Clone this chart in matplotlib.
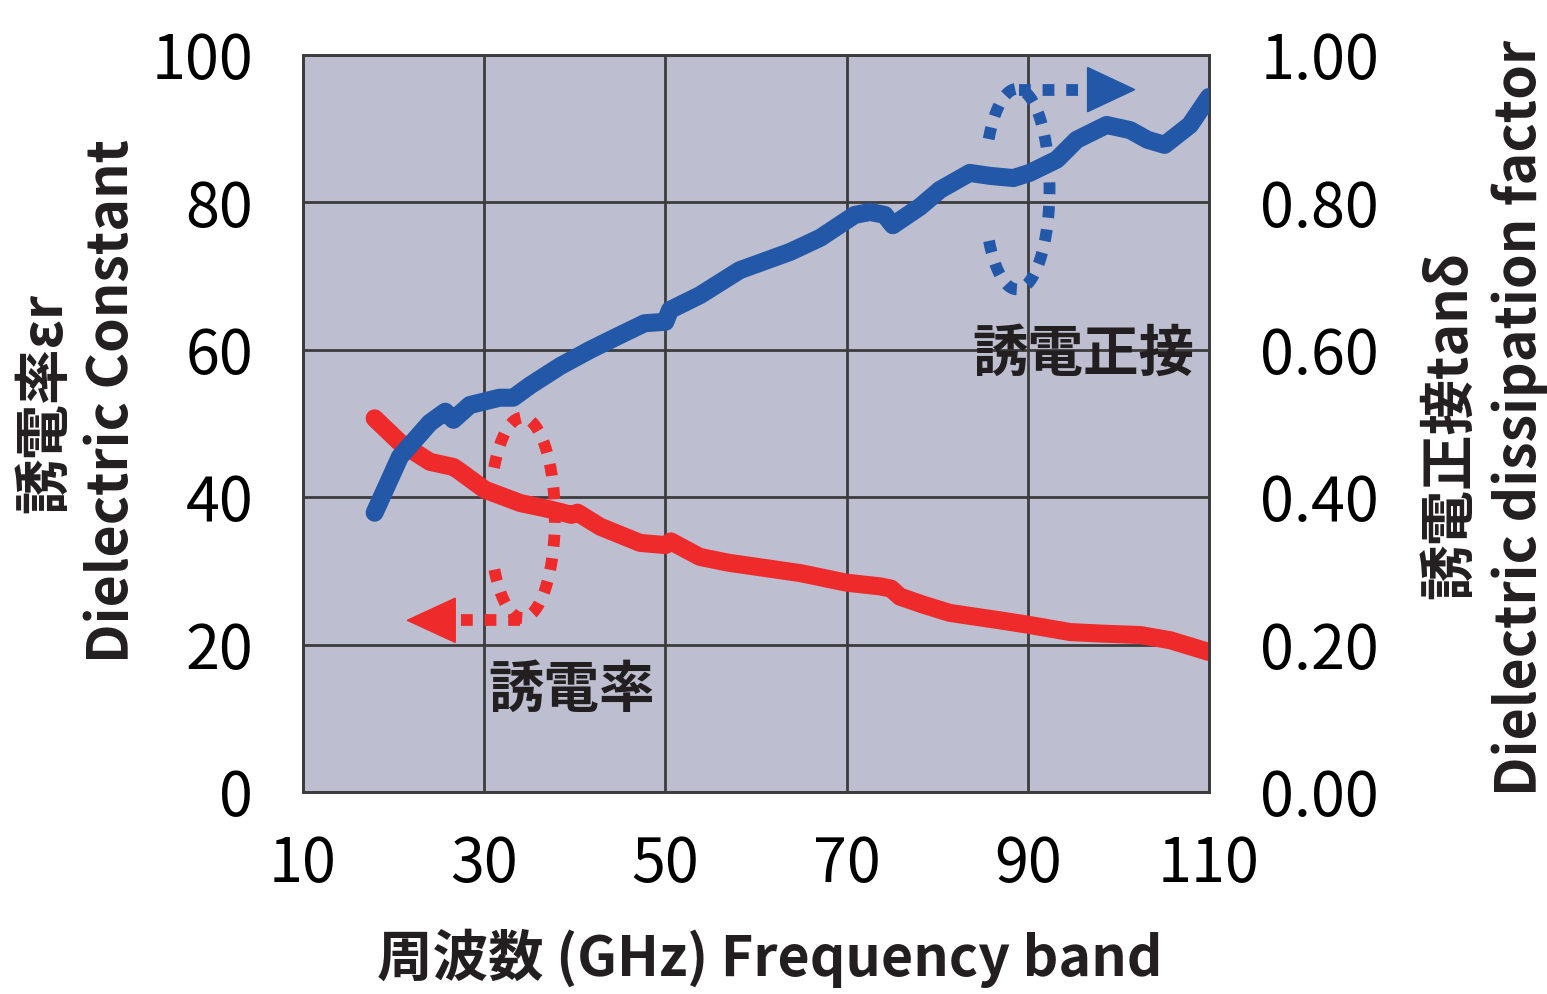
import numpy as np
import matplotlib
matplotlib.use('Agg')
import matplotlib.pyplot as plt
from matplotlib.patches import Polygon

plt.rcParams['font.family'] = ['Noto Sans CJK JP', 'DejaVu Sans']

# Dielectric constant (left axis)
freq_er = [17.9, 20.7, 24.0, 26.6, 27.2, 30.1, 34.0, 36.7, 38.4, 39.6, 40.3, 42.8, 47.2, 50.0,
           50.6, 53.8, 57.0, 60.4, 64.9, 70.0, 73.7, 74.9, 75.9, 78.5, 81.4, 86.9, 90.0,
           94.7, 98.0, 102.4, 105.7, 110.0]
er = [50.7, 47.4, 44.8, 44.1, 43.6, 41.0, 39.2, 38.5, 38.0, 37.6, 37.9, 36.0, 33.8, 33.5,
      34.0, 31.9, 31.1, 30.5, 29.7, 28.4, 27.9, 27.6, 26.5, 25.4, 24.3, 23.3, 22.7,
      21.7, 21.5, 21.3, 20.6, 19.0]

# Dissipation factor (right axis)
freq_tan = [17.9, 20.7, 24.0, 25.7, 26.6, 28.4, 31.7, 33.2, 35.1, 38.4, 41.7, 45.0, 47.7, 50.0,
            50.5, 53.8, 58.2, 63.8, 67.1, 70.9, 72.6, 74.2, 75.1, 78.1, 80.3, 83.6, 85.8,
            88.4, 90.2, 93.2, 95.4, 98.7, 101.3, 103.2, 105.1, 107.9, 110.0]
tan_d = [0.379, 0.455, 0.501, 0.516, 0.505, 0.525, 0.535, 0.535, 0.552, 0.578, 0.600, 0.620,
         0.636, 0.638, 0.654, 0.674, 0.708, 0.733, 0.752, 0.783, 0.787, 0.783, 0.769, 0.794,
         0.817, 0.840, 0.836, 0.833, 0.840, 0.858, 0.885, 0.905, 0.898, 0.885, 0.878, 0.905, 0.943]

xticks = [10, 30, 50, 70, 90, 110]
yticks_left = [0, 20, 40, 60, 80, 100]
yticks_right = [0.0, 0.2, 0.4, 0.6, 0.8, 1.0]

RED = '#ee2a2b'
BLUE = '#2358a8'
GRID = '#3c3c3c'
TXT = '#231f20'

fig = plt.figure(figsize=(15.47, 9.94), dpi=100)
ax = fig.add_axes([0.1959, 0.2032, 0.5856, 0.7415])
ax.set_facecolor('#bdbfd0')
ax2 = ax.twinx()

ax.set_xlim(10, 110)
ax.set_ylim(0, 100)
ax2.set_ylim(0, 1)
ax.set_xticks(xticks)
ax.set_yticks(yticks_left)
ax2.set_yticks(yticks_right)
ax2.set_yticklabels([f'{v:.2f}' for v in yticks_right])
ax.grid(True, color=GRID, linewidth=2.0)
ax.set_axisbelow(True)
for a in (ax, ax2):
    for s in a.spines.values():
        s.set_color(GRID)
        s.set_linewidth(2.0)
ax.tick_params(axis='both', length=0, labelsize=44, pad=36)
ax.tick_params(axis='x', pad=30)
ax2.tick_params(axis='y', length=0, labelsize=44, pad=37)

ax.plot(freq_er, er, color=RED, lw=13, solid_capstyle='round', solid_joinstyle='round', zorder=3)
ax2.plot(freq_tan, tan_d, color=BLUE, lw=13, solid_capstyle='round', solid_joinstyle='round', zorder=3)

# dotted loops with arrows (annotation marks, drawn in left-axis units)
def loop(cx, cy, color):
    t = np.radians(np.linspace(150, -150, 200))
    ax2.plot(cx + 3.6 * np.cos(t), cy + 13.6 * np.sin(t), transform=ax.transData,
             color=color, lw=8.5, linestyle=(0, (1, 1)), dash_capstyle='butt', zorder=4)

loop(34.2, 37.2, RED)
ax2.plot([34.0, 27.0], [23.3, 23.3], transform=ax.transData, color=RED, lw=8.5,
         linestyle=(0, (1, 1)), dash_capstyle='butt', zorder=4)
ax2.add_patch(Polygon([[21.5, 23.3], [26.8, 26.3], [26.8, 20.3]], closed=True,
                      color=RED, transform=ax.transData, zorder=4))

loop(88.8, 81.8, BLUE)
ax2.plot([89.0, 96.4], [95.3, 95.3], transform=ax.transData, color=BLUE, lw=8.5,
         linestyle=(0, (1, 1)), dash_capstyle='butt', zorder=4)
ax2.add_patch(Polygon([[101.8, 95.3], [96.6, 98.3], [96.6, 92.3]], closed=True,
                      color=BLUE, transform=ax.transData, zorder=4))

ax.text(39.6, 13.7, '誘電率', fontsize=40, fontweight='bold', color=TXT,
        ha='center', va='center', zorder=5)
ax2.text(96.1, 59.3, '誘電正接', fontsize=40, fontweight='bold', color=TXT,
         ha='center', va='center', transform=ax.transData, zorder=5)

# axis titles
fig.text(770 / 1547, 1 - 958 / 994, '周波数 (GHz) Frequency band', fontsize=40,
         fontweight='bold', ha='center', va='center', color=TXT)
fig.text(45 / 1547, 1 - 403 / 994, '誘電率εr', fontsize=40, fontweight='bold',
         rotation=90, ha='center', va='center', color=TXT)
fig.text(112 / 1547, 1 - 401 / 994, 'Dielectric Constant', fontsize=40, fontweight='bold',
         rotation=90, ha='center', va='center', color=TXT)
fig.text(1450 / 1547, 1 - 425 / 994, '誘電正接tanδ', fontsize=40, fontweight='bold',
         rotation=90, ha='center', va='center', color=TXT)
fig.text(1520 / 1547, 1 - 418 / 994, 'Dielectric dissipation factor', fontsize=40,
         fontweight='bold', rotation=90, ha='center', va='center', color=TXT)

fig.savefig('out.png', dpi=100)
